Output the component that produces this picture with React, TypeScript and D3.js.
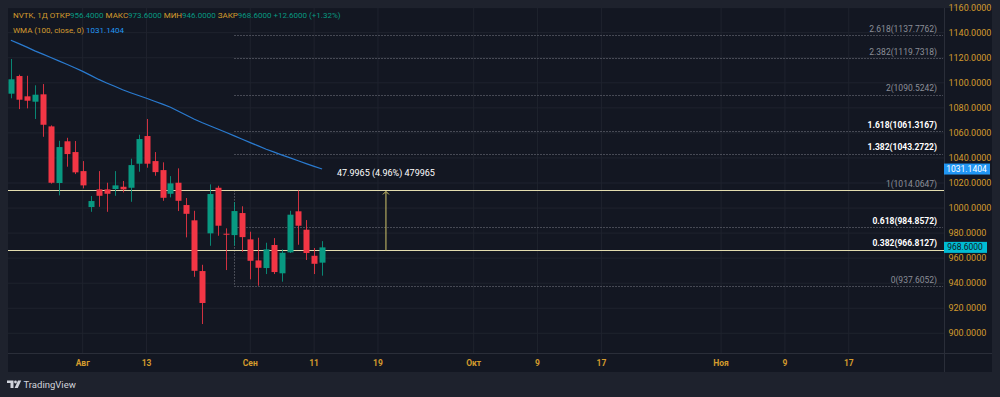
import React from 'react';
import * as d3 from 'd3';

// NVTK daily candles, 21 Jul - 12 Sep 2025
const opens = [1091.3, 1105.4, 1089.2, 1084.9, 1090.8, 1065.2, 1020, 1053.3, 1044.7, 1029.5, 1000.8, 1014.9, 1014.9, 1015.2, 1017, 1016.2, 1035.4, 1057.5, 1037.5, 1030.3, 1011.4, 1020.2, 1002.4, 990.2, 949.7, 979.8, 1016.2, 979.5, 978.4, 996, 975, 958.2, 952.1, 970.5, 947.9, 964.6, 997.4, 982.7, 961.9, 956.4];
const highs = [1119, 1106.5, 1105.6, 1098, 1099, 1066, 1053.7, 1056.1, 1053.5, 1037.5, 1009.6, 1029.5, 1020.2, 1029.5, 1021.6, 1039.4, 1058.5, 1071.1, 1044.7, 1036.5, 1025.5, 1031.7, 1008, 997.8, 954.7, 1018.9, 1017.8, 983.8, 1004.8, 1001.4, 981.1, 976.3, 972.3, 976, 967, 997.8, 1014.1, 990.4, 968.1, 973.6];
const lows = [1087.6, 1079, 1079.6, 1071.1, 1056.9, 1019.5, 1010.1, 1033, 1027.1, 1015.7, 997, 1001, 997, 1009.8, 1012.5, 1005, 1029, 1032.2, 1025.8, 1005.8, 1008.5, 997.6, 976.6, 945.1, 907.4, 969.9, 977.9, 950.5, 969.9, 965.1, 943.1, 938, 947.3, 947.3, 941.2, 964.1, 970.7, 958.5, 947.3, 946];
const closes = [1102.8, 1086.5, 1085.7, 1090.5, 1066.5, 1020.2, 1048.7, 1043.1, 1028.5, 1018.1, 1005.6, 1009.8, 1011.4, 1018.1, 1014.9, 1034.3, 1055.1, 1035.4, 1028.7, 1008.2, 1019.7, 1005.8, 995.4, 949.9, 924.2, 1011.2, 985.9, 979, 997.6, 976.8, 957.9, 952.3, 967, 948.9, 964.3, 994.7, 985.9, 964.1, 955.5, 968.6];
// WMA(100) per candle
const wma = [1134.0, 1131.3, 1128.5, 1125.5, 1122.9, 1120.2, 1117.5, 1114.8, 1112.0, 1109.1, 1105.9, 1102.7, 1099.9, 1097.2, 1094.4, 1092.1, 1089.9, 1087.7, 1085.3, 1083.0, 1080.5, 1077.3, 1074.1, 1070.9, 1068.1, 1065.5, 1062.9, 1060.3, 1057.6, 1054.9, 1052.2, 1049.6, 1046.9, 1044.6, 1042.3, 1040.1, 1037.8, 1035.5, 1033.3, 1031.1404];
const lastChange = 12.6;
const lastChangePct = 1.32;

const fibRatios = ['2.618', '2.382', '2', '1.618', '1.382', '1', '0.618', '0.382', '0'];
const fibPrices = [1137.7762, 1119.7318, 1090.5242, 1061.3167, 1043.2722, 1014.0647, 984.8572, 966.8127, 937.6052];
const fibBold = [false, false, false, true, true, false, true, true, false];
const hLines = [1014.0647, 966.8127];

const priceTicks = [900, 920, 940, 960, 980, 1000, 1020, 1040, 1060, 1080, 1100, 1120, 1140, 1160];
const timeTickDates = ['2025-08-01', '2025-08-13', '2025-09-01', '2025-09-11', '2025-09-19', '2025-10-01', '2025-10-09', '2025-10-17', '2025-11-01', '2025-11-09', '2025-11-17'];
const timeTickLabels = ['Авг', '13', 'Сен', '11', '19', 'Окт', '9', '17', 'Ноя', '9', '17'];

const measure = { from: 966.0682, to: 1014.0647, text: '47.9965 (4.96%) 479965' };

const W = 1000;
const H = 397;
const pane = { left: 8, top: 8, right: 944, bottom: 353 };
const axisRight = 992;
const axisBottomY = 372;
const font = 'Roboto, "Noto Sans", sans-serif';

const fmt = d3.format('.4f');
const iso = d3.timeFormat('%Y-%m-%d');

// weekday bars up to the last candle, then calendar days into the future
const barDays = d3.timeDay.range(new Date(2025, 6, 21), new Date(2025, 8, 13)).filter((d) => d.getDay() % 6 !== 0);
const futureDays = d3.timeDay.range(new Date(2025, 8, 13), new Date(2025, 11, 1));
const allDays = [...barDays, ...futureDays].map(iso);

export default function App() {
  const x = d3.scaleLinear().domain([9, 39]).range([82.7, 322.1]);
  const y = d3.scaleLinear().domain([900, 1140]).range([333.3, 32.7]);

  const wmaLine = d3
    .line<number>()
    .x((_, i) => x(i))
    .y((v) => y(v));

  const last = closes.length - 1;
  const fibStartX = Math.round(x(28)) + 0.5;
  const measureX = x(47);

  const up = '#089981';
  const down = '#f23645';
  const gold = '#d39b2d';

  return (
    <div style={{ position: 'fixed', left: 0, top: 0 }}>
      <svg width={W} height={H} style={{ display: 'block', fontFamily: font }}>
        <defs>
          <clipPath id="paneClip">
            <rect x={pane.left} y={pane.top} width={pane.right - pane.left} height={pane.bottom - pane.top} />
          </clipPath>
          <clipPath id="axisClip">
            <rect x={pane.right} y={2} width={axisRight - pane.right} height={pane.bottom - 2} />
          </clipPath>
        </defs>
        <rect width={W} height={H} fill="#1e222d" />
        <rect x={pane.left} y={pane.top} width={axisRight - pane.left} height={axisBottomY - pane.top} fill="#131722" />

        {/* grid */}
        <g clipPath="url(#paneClip)">
          {priceTicks.map((t) => (
            <line key={t} x1={pane.left} x2={pane.right} y1={y(t)} y2={y(t)} stroke="#1f232e" />
          ))}
          {timeTickDates.map((d) => {
            const xi = x(allDays.indexOf(d));
            return <line key={d} x1={xi} x2={xi} y1={pane.top} y2={pane.bottom} stroke="#1f232e" />;
          })}
        </g>

        {/* borders */}
        <line x1={pane.right + 0.5} x2={pane.right + 0.5} y1={pane.top} y2={axisBottomY} stroke="#2a2e39" />
        <line x1={pane.left} x2={axisRight} y1={pane.bottom + 0.5} y2={pane.bottom + 0.5} stroke="#2a2e39" />

        <g clipPath="url(#paneClip)">
          {/* fib levels */}
          {fibPrices.map((p, i) => (
            <g key={fibRatios[i]}>
              <line x1={fibStartX} x2={pane.right - 1} y1={Math.round(y(p)) + 0.5} y2={Math.round(y(p)) + 0.5} stroke="#7a7d86" strokeDasharray="1 2" />
              <text
                x={937}
                y={y(p) - 3.5}
                textAnchor="end"
                fontSize={8.5}
                fontWeight={fibBold[i] ? 'bold' : 'normal'}
                fill={fibBold[i] ? '#ffffff' : '#8c8f98'}
              >
                {`${fibRatios[i]}(${fmt(p)})`}
              </text>
            </g>
          ))}
          <line x1={fibStartX} x2={fibStartX} y1={y(fibPrices[5])} y2={y(fibPrices[8])} stroke="#7a7d86" strokeDasharray="1 2" />

          {/* horizontal lines */}
          {hLines.map((p) => (
            <line key={p} x1={pane.left} x2={pane.right} y1={Math.round(y(p)) + 0.5} y2={Math.round(y(p)) + 0.5} stroke="#e2dcae" />
          ))}

          {/* WMA */}
          <path d={wmaLine(wma) ?? ''} fill="none" stroke="#2a7bd0" strokeWidth={1.2} />

          {/* candles */}
          {opens.map((o, i) => {
            const c = closes[i];
            const col = c >= o ? up : down;
            const cx = Math.round(x(i));
            const top = y(Math.max(o, c));
            const bh = Math.max(1, y(Math.min(o, c)) - top);
            return (
              <g key={i}>
                <line x1={cx + 0.5} x2={cx + 0.5} y1={y(highs[i])} y2={y(lows[i])} stroke={col} strokeOpacity={0.85} />
                <rect x={cx - 2.5} y={top} width={6} height={bh} fill={col} />
              </g>
            );
          })}

          {/* price range measure */}
          <line x1={measureX} x2={measureX} y1={y(measure.from)} y2={y(measure.to) + 1} stroke="#cfc46a" />
          <path
            d={`M${measureX - 3},${y(measure.to) + 4} L${measureX},${y(measure.to) + 1} L${measureX + 3},${y(measure.to) + 4}`}
            fill="none"
            stroke="#cfc46a"
          />
          <text x={measureX} y={y(measure.to) - 14} textAnchor="middle" fontSize={9} fill="#ffffff">
            {measure.text}
          </text>
        </g>

        {/* right price axis */}
        <g clipPath="url(#axisClip)">
          {priceTicks.map((t) => (
            <text key={t} x={948.5} y={y(t)} dy="0.35em" fontSize={9} fill={gold}>
              {fmt(t)}
            </text>
          ))}
          <rect x={943} y={y(wma[last]) - 5.5} width={47} height={11} fill="#2196f3" />
          <text x={966.5} y={y(wma[last])} dy="0.35em" textAnchor="middle" fontSize={8.5} fill="#ffffff">
            {fmt(wma[last])}
          </text>
          <rect x={943} y={y(closes[last]) - 5.5} width={44} height={11} fill="#00bcd4" />
          <text x={965} y={y(closes[last])} dy="0.35em" textAnchor="middle" fontSize={8.5} fill="#131722">
            {fmt(closes[last])}
          </text>
        </g>

        {/* time axis */}
        {timeTickDates.map((d, i) => (
          <text key={d} x={x(allDays.indexOf(d))} y={363} dy="0.35em" textAnchor="middle" fontSize={8.5} fontWeight="bold" fill={gold}>
            {timeTickLabels[i]}
          </text>
        ))}

        {/* legend */}
        <text x={13} y={18} fontSize={8} fill={gold}>
          <tspan>NVTK, 1Д ОТКР</tspan>
          <tspan fill={up}>{fmt(opens[last])}</tspan>
          <tspan> МАКС</tspan>
          <tspan fill={up}>{fmt(highs[last])}</tspan>
          <tspan> МИН</tspan>
          <tspan fill={up}>{fmt(lows[last])}</tspan>
          <tspan> ЗАКР</tspan>
          <tspan fill={up}>{fmt(closes[last])}</tspan>
          <tspan fill={up}>{` +${fmt(lastChange)} (+${lastChangePct.toFixed(2)}%)`}</tspan>
        </text>
        <text x={13} y={33} fontSize={8} fill={gold}>
          <tspan>WMA (100, close, 0) </tspan>
          <tspan fill="#2196f3">{fmt(wma[last])}</tspan>
        </text>

        {/* TradingView logo */}
        <g fill="#d1d4dc">
          <path d="M7,380.5 h6.5 v7.5 h-3 v-5 h-3.5 z" />
          <circle cx={15.5} cy={382} r={1.4} />
          <path d="M18,380.5 h3.2 l-3.4,7.5 h-3.2 z" />
          <text x={23.5} y={388} fontSize={9.5}>
            TradingView
          </text>
        </g>
      </svg>
    </div>
  );
}
